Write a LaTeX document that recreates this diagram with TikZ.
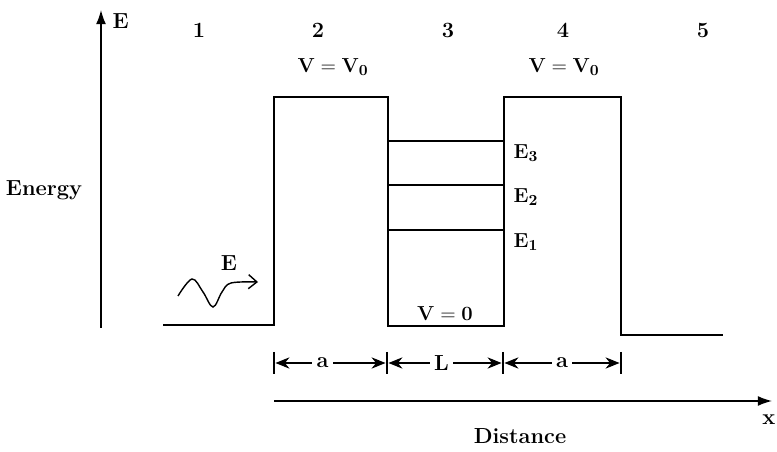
\documentclass[tikz,border=0pt]{standalone}
\usepackage{tikz}
\usetikzlibrary{arrows.meta,positioning,calc}
\tikzset{
 lbl/.style={font=\fontsize{15.5}{18}\selectfont\bfseries, inner sep=1pt},
 profile/.style={line width=1.1pt, draw=black},
 level/.style={line width=1pt, draw=black},
 axis/.style={-{Latex[length=10pt,width=7pt]}, line width=1pt},
 dim/.style={{Stealth[length=10pt,width=8pt]}-{Stealth[length=10pt,width=8pt]}, line width=0.9pt, shorten <=1pt, shorten >=1pt},
 tick/.style={line width=0.9pt}
}
\begin{document}
\begin{tikzpicture}[x=0.025cm,y=-0.025cm]
\useasboundingbox (0,0) rectangle (777,452);
% axes
\coordinate (Ebot) at (101,328);
\coordinate (Etop) at (101,10);
\draw[axis] (Ebot) -- (Etop);
\node[lbl, right=7pt of Etop, yshift=-8pt] (Elbl) {E};
\node[lbl] (energy) at (44,190) {Energy};
\coordinate (xstart) at (274,401);
\coordinate (xend) at (772,401);
\draw[axis] (xstart) -- (xend);
\node[lbl, anchor=east] (xlbl) at (777,420) {x};
\node[lbl] (dist) at (520,436) {Distance};
% region numbers
\node[lbl] (r1) at (199,30) {1};
\node[lbl] (r2) at (318,30) {2};
\node[lbl] (r3) at (448,30) {3};
\node[lbl] (r4) at (563,30) {4};
\node[lbl] (r5) at (703,30) {5};
\node[lbl] (v2) at (333,67) {$\mathbf{V = V_0}$};
\node[lbl] (v4) at (564,67) {$\mathbf{V = V_0}$};
% potential profile
\coordinate (p0) at (163,325);
\coordinate (p1) at (274,325);
\coordinate (p2) at (274,97);
\coordinate (p3) at (388,97);
\coordinate (p4) at (388,326);
\coordinate (p5) at (504,326);
\coordinate (p6) at (504,97);
\coordinate (p7) at (621,97);
\coordinate (p8) at (621,335);
\coordinate (p9) at (723,335);
\draw[profile] (p0) -- (p1) -- (p2) -- (p3) -- (p4) -- (p5) -- (p6) -- (p7) -- (p8) -- (p9);
\node[lbl] (v0) at (445,314) {$\mathbf{V = 0}$};
% energy levels
\foreach \n/\y in {1/230,2/185,3/141}{
 \draw[level] (388,\y) -- (504,\y);
 \node[lbl, anchor=west] (e\n) at (512,\y+12) {$\mathbf{E_{\n}}$};
}
% incident wave
\draw[line width=1pt, -{Straight Barb[length=6pt,width=10pt]}] plot[smooth, tension=0.6] coordinates {(178,296) (192,279) (203,292) (213,307) (222,292) (231,283) (258,282)};
\node[lbl] (Ewave) at (229,263) {E};
% widths
\coordinate (d1) at (274,363);
\coordinate (d2) at (387,363);
\coordinate (d3) at (503,363);
\coordinate (d4) at (621,363);
\foreach \c in {d1,d2,d3,d4}
 \draw[tick] ($(\c)+(0,-11)$) -- ($(\c)+(0,11)$);
\draw[dim] (d1) -- node[lbl, fill=white, inner xsep=3pt, pos=0.43] (wa) {a} (d2);
\draw[dim] (d2) -- node[lbl, fill=white, inner xsep=3pt, pos=0.47] (wl) {L} (d3);
\draw[dim] (d3) -- node[lbl, fill=white, inner xsep=3pt, pos=0.5] (wb) {a} (d4);
\end{tikzpicture}
\end{document}
